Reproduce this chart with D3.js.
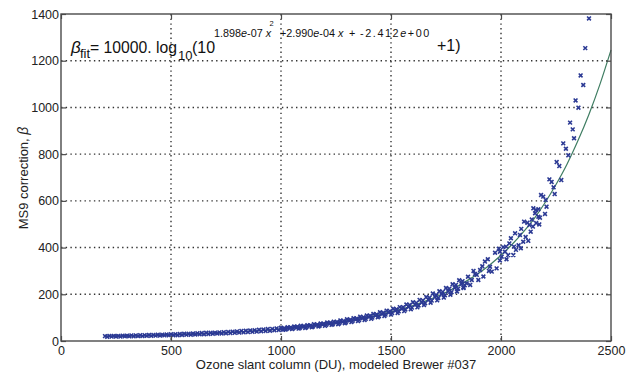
<!DOCTYPE html>
<html><head><meta charset="utf-8">
<script src="https://cdn.jsdelivr.net/npm/d3@7"></script>
<style>
body{margin:0;background:#fff;}
svg{display:block;font-family:"Liberation Sans",Arial,sans-serif;}
</style></head>
<body><svg id="c" width="634" height="372"></svg>
<script>
// ---- data ----
const xTicks = [0, 500, 1000, 1500, 2000, 2500];
const yTicks = [0, 200, 400, 600, 800, 1000, 1200, 1400];
const xGrid = [500, 1000, 1500, 2000];
const yGrid = [200, 400, 600, 800, 1000, 1200];

// low-column dense band (two rows)
const lowX = [200,220,240,260,280,300,320,340,360,380,400,420,440,460,480,500,520,540,560,580,600,620,640,660,680,700,720,740,760,780,800,820,840,860,880,900,920,940,960,980,1000];
const lowUpper = [21,22,22,22,23,23,24,24,25,25,26,26,27,27,28,29,29,30,31,31,32,33,34,35,35,36,37,38,39,40,41,43,44,45,46,48,49,51,52,54,56];
const lowLower = [18,19,19,19,20,20,20,21,21,22,22,23,23,24,24,25,25,26,27,27,28,29,29,30,31,32,32,33,34,35,36,37,38,39,40,42,43,44,46,47,48];

// mid range streaks
const upX = [1000,1030,1060,1090,1120,1150,1180,1210,1240,1270,1300,1330,1360,1390,1420,1450,1480,1510,1540,1570,1600,1630,1660,1690,1720,1750,1780,1810];
const upY = [56,59,62,65,68,72,75,79,83,88,93,98,104,109,116,123,130,138,145,156,166,176,188,203,213,227,243,260];
const up2X = [1015,1045,1075,1105,1135,1165,1195,1225,1255,1285,1315,1345,1375,1405,1435,1465,1495,1525,1555,1585,1615,1645,1675,1705,1735,1765,1795,1825];
const up2Y = [55,58,61,63,67,70,74,78,82,86,91,96,102,108,114,121,128,136,145,154,163,174,185,197,210,224,240,256];
const midX = [1010,1040,1070,1100,1130,1160,1190,1220,1250,1280,1310,1340,1370,1400,1430,1460,1490,1520,1550,1580,1610,1640,1670,1700,1730,1760,1790,1820];
const midY = [52,55,58,61,64,67,71,74,78,82,87,92,97,103,109,115,122,130,138,146,155,165,176,188,200,213,228,244];
const lo2X = [1025,1055,1085,1115,1145,1175,1205,1235,1265,1295,1325,1355,1385,1415,1445,1475,1505,1535,1565,1595,1625,1655,1685,1715,1745,1775,1805,1835];
const lo2Y = [51,54,56,59,62,65,69,72,76,80,85,90,95,100,106,113,120,127,135,143,152,162,173,184,196,209,224,239];
const loX = [1020,1050,1080,1110,1140,1170,1200,1230,1260,1290,1320,1350,1380,1410,1440,1470,1500,1530,1560,1590,1620,1650,1680,1710,1740,1770,1800,1830];
const loY = [49,51,53,56,59,62,65,69,72,76,81,85,90,95,101,107,113,120,128,136,144,154,164,174,186,198,212,227];

// high range scatter
const hiPoints = [
 [1829,230],[1844,247],[1850,275],[1860,240],[1867,261],[1875,300],[1882,287],[1890,283],[1897,261],[1905,304],
 [1915,320],[1920,276],[1927,340],[1940,350],[1945,300],[1950,318],[1958,297],[1973,378],[1980,311],[1990,395],
 [1995,345],[1995,382],[2003,361],[2010,402],[2018,382],[2023,404],[2025,350],[2033,368],[2038,418],[2045,440],
 [2056,368],[2059,404],[2064,461],[2068,390],[2080,410],[2086,454],[2090,397],[2092,480],[2101,425],[2105,511],
 [2112,445],[2120,506],[2124,429],[2129,497],[2135,468],[2140,520],[2145,490],[2147,568],[2155,547],[2159,561],
 [2160,505],[2170,532],[2170,564],[2174,499],[2177,528],[2182,625],[2192,618],[2200,544],[2203,604],[2207,575],
 [2220,692],[2230,681],[2239,658],[2244,629],[2253,766],[2265,749],[2274,689],[2283,846],[2295,823],[2306,795],
 [2314,935],[2326,906],[2332,868],[2339,1030],[2352,999],[2362,1137],[2374,1096],[2383,1254],[2400,1381]
];

// fitted curve
const fitX = [200,250,300,350,400,450,500,550,600,650,700,750,800,850,900,950,1000,1050,1100,1150,1200,1250,1300,1350,1400,1450,1500,1550,1600,1650,1700,1750,1800,1850,1900,1950,2000,2050,2100,2150,2200,2250,2300,2350,2400,2450,2500];
const fitY = [19.6,20.5,21.4,22.5,23.7,25.0,26.4,28.0,29.7,31.6,33.6,35.9,38.4,41.2,44.3,47.7,51.5,55.9,60.5,65.8,71.5,78.0,85.3,93.5,102.6,112.9,124.5,137.6,152.2,168.8,187.6,208.7,232.9,260.6,291.4,326.8,366.9,413,464.7,523,592,670,757,858,971,1100,1246];

// ---- drawing ----
const L = 61, R = 611, T = 14, B = 341;
const svg = d3.select("#c");
const x = d3.scaleLinear().domain([0, 2500]).range([L, R]);
const y = d3.scaleLinear().domain([0, 1400]).range([B, T]);
const axisCol = "#4a4a4a", textCol = "#222";

// grid
const g = svg.append("g");
g.selectAll("line.gx").data(xGrid).join("line")
  .attr("x1", d => x(d)).attr("x2", d => x(d)).attr("y1", T).attr("y2", B)
  .attr("stroke", "#333").attr("stroke-width", 1.4).attr("stroke-dasharray", "1.4,3.3");
g.selectAll("line.gy").data(yGrid).join("line")
  .attr("y1", d => y(d)).attr("y2", d => y(d)).attr("x1", L).attr("x2", R)
  .attr("stroke", "#333").attr("stroke-width", 1.4).attr("stroke-dasharray", "1.4,3.3");

// fit line
const line = d3.line().x(d => x(d[0])).y(d => y(d[1])).curve(d3.curveMonotoneX);
svg.append("path").datum(fitX.map((v, i) => [v, fitY[i]]))
  .attr("d", line).attr("fill", "none").attr("stroke", "#3f7d62").attr("stroke-width", 1.2);

// points
const pts = [];
lowX.forEach((v, i) => { pts.push([v, lowUpper[i]]); pts.push([v + 10, lowLower[i]]); });
[[upX, upY], [up2X, up2Y], [midX, midY], [lo2X, lo2Y], [loX, loY]].forEach(([xs, ys]) =>
  xs.forEach((v, i) => pts.push([v, ys[i]])));
hiPoints.forEach(p => pts.push(p));
const s = 1.9;
svg.append("g").selectAll("path").data(pts).join("path")
  .attr("transform", d => `translate(${x(d[0])},${y(d[1])})`)
  .attr("d", `M${-s},${-s}L${s},${s}M${-s},${s}L${s},${-s}`)
  .attr("stroke", "#2c3a94").attr("stroke-width", 1.6).attr("fill", "none");

// axes (ticks inward)
function styleAxis(sel) {
  sel.select(".domain").remove();
  sel.selectAll(".tick line").attr("stroke", axisCol).attr("stroke-width", 1.2);
  sel.selectAll(".tick text").attr("fill", textCol).attr("font-size", 12.5)
     .attr("font-family", "Liberation Sans, Arial, sans-serif");
}
svg.append("g").attr("transform", `translate(0,${B})`)
  .call(d3.axisBottom(x).tickValues(xTicks).tickSize(-5).tickPadding(5).tickFormat(d3.format("d")))
  .call(styleAxis);
svg.append("g").attr("transform", `translate(${L},0)`)
  .call(d3.axisLeft(y).tickValues(yTicks).tickSize(-5).tickPadding(2).tickFormat(d3.format("d")))
  .call(styleAxis);
svg.append("g").attr("transform", `translate(0,${T})`)
  .call(d3.axisTop(x).tickValues(xTicks).tickSize(-5).tickFormat(""))
  .call(styleAxis);
svg.append("g").attr("transform", `translate(${R},0)`)
  .call(d3.axisRight(y).tickValues(yTicks).tickSize(-5).tickFormat(""))
  .call(styleAxis);

// frame
svg.append("rect").attr("x", L).attr("y", T).attr("width", R - L).attr("height", B - T)
  .attr("fill", "none").attr("stroke", axisCol).attr("stroke-width", 1.4);

// axis labels
svg.append("text").attr("x", 336).attr("y", 369).attr("text-anchor", "middle")
  .attr("font-size", 13).attr("fill", textCol).text("Ozone slant column (DU), modeled Brewer #037");
const yl = svg.append("text").attr("transform", "translate(28,178) rotate(-90)")
  .attr("text-anchor", "middle").attr("font-size", 13).attr("fill", textCol);
yl.append("tspan").text("MS9 correction, ");
yl.append("tspan").attr("font-style", "italic").attr("font-size", 14).text("β");

// formula
const f = svg.append("g").attr("fill", "#111");
function t(xp, yp, size, parts, extra) {
  const e = f.append("text").attr("x", xp).attr("y", yp).attr("font-size", size);
  parts.forEach(p => {
    const ts = e.append("tspan").text(p[0]);
    if (p[1]) ts.attr("font-style", "italic");
  });
  if (extra) extra(e);
  return e;
}
t(71, 53, 17, [["β", true]]);
t(80, 58, 13, [["fit"]]);
t(90, 53, 16, [["= 10000. log"]], e => e.attr("textLength", 87).attr("lengthAdjust", "spacingAndGlyphs"));
t(178, 60, 13, [["10"]]);
t(192, 53, 16, [["(10"]]);
t(214, 37, 10.8, [["1.898"], ["e", true], ["-07 "], ["x", true]]);
t(269.5, 26, 7.5, [["2"]]);
t(280, 37, 10.8, [["+2.990"], ["e", true], ["-04 "], ["x", true]]);
t(349, 37, 10.8, [["+"]]);
t(360, 37, 10.8, [["-2.412"], ["e", true], ["+00"]], e => e.attr("letter-spacing", 1.6));
t(437, 51, 16, [["+1)"]]);
</script></body></html>
